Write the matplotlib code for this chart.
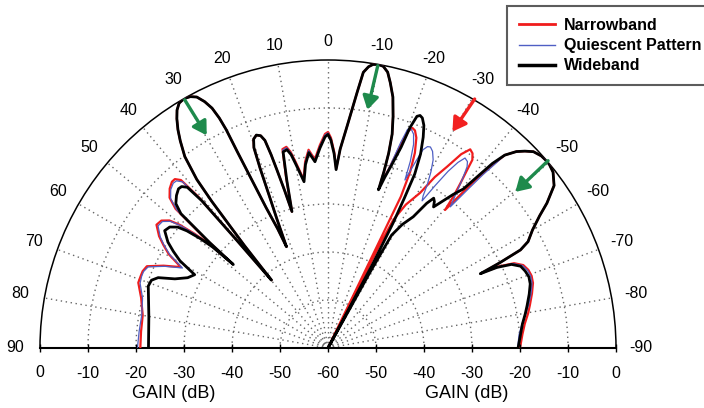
import numpy as np
import matplotlib
matplotlib.use('Agg')
import matplotlib.pyplot as plt
from matplotlib.lines import Line2D

plt.rcParams['font.family'] = ['Liberation Sans', 'DejaVu Sans']

# ---------------- data (angle in degrees, gain in dB) ----------------
series_names = ['Narrowband', 'Quiescent Pattern', 'Wideband']

# shared main lobe segment (30 deg lobe and 18 deg lobe)
main_theta = [39.2, 38.4, 37.9, 36.8, 35.5, 34.5, 33.4, 32.4, 31.3, 30.0, 28.7, 27.6, 26.6,
              25.8, 25.3, 25.0, 24.8, 24.5, 23.8, 22.9, 22.3, 21.6, 21.1, 20.7, 20.3, 19.6,
              18.6, 17.6, 16.9, 16.4, 16.0, 15.4, 14.8]
main_gain = [-32.4, -21.0, -15.5, -10.2, -7.0, -4.8, -2.8, -1.3, -0.3, 0.0, -0.3, -1.0, -2.6,
             -4.5, -7.0, -9.8, -15.0, -20.0, -28.0, -33.0, -37.2, -31.0, -26.0, -20.0, -15.5, -13.8,
             -13.2, -13.6, -14.8, -18.0, -21.4, -26.0, -30.6]

# central sidelobes (14.8 .. -2.6 deg)
mid_theta = [13.8, 12.9, 11.7, 10.8, 9.9, 8.2, 7.0, 5.6, 4.0, 2.3, 0.8, 0.0, -0.8, -1.8, -2.6]
wb_mid_gain = [-24.0, -18.1, -17.8, -19.0, -21.2, -25.0, -21.5, -19.1, -21.1, -18.3, -16.0, -15.5, -16.7, -19.5, -22.8]
nb_mid_gain = [-23.4, -17.5, -17.2, -18.4, -20.6, -24.5, -20.9, -18.5, -20.6, -17.7, -15.4, -15.0, -16.2, -19.1, -22.6]
qp_mid_gain = [-23.6, -17.7, -17.4, -18.6, -20.8, -24.7, -21.1, -18.7, -20.8, -17.9, -15.6, -15.2, -16.4, -19.3, -22.7]

# shared -10 deg lobe
ten_theta = [-3.5, -4.9, -6.5, -7.3, -8.2, -9.0, -10.0, -11.1, -12.2, -13.2, -14.5, -15.7, -16.7, -17.3, -17.6]
ten_gain = [-18.5, -13.7, -6.4, -2.1, -0.8, -0.2, 0.0, -0.2, -1.2, -3.2, -6.0, -9.9, -13.5, -17.5, -21.5]

# shared -50 deg lobe
fifty_theta = [-42.5, -43.8, -45.0, -46.3, -48.0, -50.0, -52.0, -54.3, -56.5, -58.0, -60.0, -62.0, -63.0, -63.6]
fifty_gain = [-5.5, -3.3, -2.0, -0.8, -0.2, 0.0, -0.5, -2.0, -5.3, -8.0, -10.8, -12.8, -15.0, -20.0]

# left shoulder and lobes (90 .. 39.8 deg)
left_theta = [90, 85, 80, 75, 71, 69, 67.5, 65.7, 63.4, 61.2, 59.5, 58.0, 56.5, 54.3, 52.6, 51.2,
              50.3, 49.4, 48.8, 48.6, 48.3, 47.6, 46.5, 44.8, 43.2, 42.2, 41.2, 40.6, 40.3, 39.8]
wb_left_gain = [-22.6, -22.5, -22.1, -21.3, -20.4, -20.6, -21.7, -25.0, -27.3, -28.3, -24.2, -22.0,
                -20.0, -18.1, -18.5, -19.8, -21.8, -25.0, -28.1, -33.7, -27.0, -18.5, -16.3, -15.2,
                -14.5, -14.6, -15.5, -19.6, -29.5, -41.6]
nb_left_gain = [-20.9, -20.9, -20.8, -19.7, -18.2, -18.2, -18.2, -18.6, -21.7, -25.0, -21.5, -19.6,
                -17.8, -16.0, -16.3, -17.6, -19.8, -23.5, -27.5, -32.5, -26.0, -17.0, -14.5, -13.2,
                -12.5, -12.5, -13.5, -18.5, -29.0, -41.6]
qp_left_gain = [-20.3, -20.5, -20.6, -20.0, -18.6, -18.4, -18.4, -18.9, -22.0, -25.4, -21.8, -19.8,
                -18.1, -16.4, -16.6, -17.9, -20.1, -23.8, -27.8, -33.0, -26.4, -17.4, -14.8, -13.5,
                -12.9, -13.0, -14.0, -18.8, -29.2, -41.6]

# region between -10 and -50 lobes
wb_right_theta = [-17.7, -18.4, -19.2, -20.0, -20.4, -21.0, -21.6, -22.3, -23.3, -24.3, -25.5, -26.5,
                  -27.0, -27.5, -28.0, -28.5, -29.0, -29.4, -31.0, -33.0, -34.3, -35.2, -36.0, -36.8,
                  -37.8, -39.2, -40.4, -41.2, -41.7]
wb_right_gain = [-25.4, -22.5, -19.5, -15.5, -11.0, -8.3, -7.9, -8.2, -9.5, -11.8, -15.2, -19.5,
                 -25.0, -30.6, -40.0, -60.0, -42.0, -33.0, -30.0, -27.4, -23.5, -21.8, -22.3, -23.3,
                 -21.5, -18.7, -16.5, -12.0, -8.5]
nb_right_theta = [-17.7, -18.8, -19.7, -20.3, -21.0, -21.8, -22.8, -24.0, -25.0, -25.7, -26.2, -26.6,
                  -27.0, -28.5, -30.7, -32.0, -33.3, -34.5, -35.6, -36.6, -37.5, -38.0, -38.8, -39.6,
                  -40.3, -40.8, -41.3, -41.9]
nb_right_gain = [-24.5, -20.5, -15.0, -11.8, -10.9, -11.2, -12.5, -15.5, -19.5, -25.0, -60.0, -36.0,
                 -30.0, -26.0, -22.4, -18.0, -14.8, -11.0, -9.1, -9.5, -10.6, -12.9, -16.0, -19.0,
                 -22.3, -18.0, -13.0, -9.0]
qp_right_theta = [-17.7, -18.8, -19.5, -20.0, -20.8, -21.8, -22.8, -23.8, -24.6, -25.2, -25.6, -26.3,
                  -27.0, -28.0, -29.2, -30.3, -31.3, -32.0, -32.6, -33.4, -34.2, -35.0, -35.8, -36.8,
                  -37.5, -38.5, -39.8, -40.9, -41.4, -41.8, -42.2]
qp_right_gain = [-24.8, -20.0, -14.5, -11.5, -11.2, -12.0, -14.0, -17.5, -21.5, -17.0, -14.2, -13.2,
                 -13.0, -13.6, -15.1, -17.5, -20.2, -22.6, -23.6, -19.5, -15.5, -12.8, -11.2, -11.5,
                 -12.4, -15.0, -18.5, -21.1, -16.0, -11.5, -8.5]

# right shoulder (-64 .. -90 deg)
shoulder_theta = [-64.0, -64.5, -65.5, -67.0, -68.7, -70.5, -72.4, -75.0, -78.0, -80.2, -83.0, -86.0, -90.0]
wb_shoulder_gain = [-24.7, -21.0, -18.0, -16.4, -15.9, -15.6, -15.8, -16.6, -17.6, -18.3, -19.2, -19.8, -20.4]
nb_shoulder_gain = [-24.0, -20.5, -17.4, -15.8, -15.2, -15.0, -15.2, -16.0, -17.0, -17.7, -18.7, -19.4, -20.0]
qp_shoulder_gain = [-24.3, -20.7, -17.6, -16.0, -15.4, -15.2, -15.4, -16.2, -17.3, -18.2, -19.3, -20.1, -20.5]

# axis ticks / labels
angle_ticks = list(range(-90, 91, 10))
angle_labels = [str(a) for a in angle_ticks]
gain_grid = [-50, -40, -30, -20, -10]
gain_tick_values = [0, -10, -20, -30, -40, -50, -60]
gain_tick_labels = ['0', '-10', '-20', '-30', '-40', '-50', '-60']

# arrows: (start theta, start gain) -> (end theta, end gain)
green_arrows = [((30.0, -0.3), (29.7, -9.0)),
                ((-10.0, -0.3), (-9.4, -9.7)),
                ((-49.6, 0.2), (-50.2, -9.2))]
red_arrows = [((-30.5, 0.2), (-29.9, -8.0))]

# ---------------- assemble series ----------------
wb_theta = left_theta + main_theta + mid_theta + ten_theta + wb_right_theta + fifty_theta + shoulder_theta
wb_gain = wb_left_gain + main_gain + wb_mid_gain + ten_gain + wb_right_gain + fifty_gain + wb_shoulder_gain
nb_theta = left_theta + main_theta + mid_theta + ten_theta + nb_right_theta + fifty_theta + shoulder_theta
nb_gain = nb_left_gain + main_gain + nb_mid_gain + ten_gain + nb_right_gain + fifty_gain + nb_shoulder_gain
qp_theta = left_theta + main_theta + mid_theta + ten_theta + qp_right_theta + fifty_theta + shoulder_theta
qp_gain = qp_left_gain + main_gain + qp_mid_gain + ten_gain + qp_right_gain + fifty_gain + qp_shoulder_gain

# ---------------- figure ----------------
W, H = 704, 408
fig = plt.figure(figsize=(W / 100, H / 100), dpi=100)
# square box: the half disc (576 x 288 px) sits centred inside it
ax = fig.add_axes([40 / W, (60 - 144) / H, 576 / W, 576 / H], projection='polar')
ax.set_theta_zero_location('N')
ax.set_theta_direction(1)
ax.set_thetamin(-90)
ax.set_thetamax(90)
ax.set_rlim(-60, 0)

ax.set_xticks(np.deg2rad(angle_ticks))
ax.set_xticklabels([])
ax.set_yticks(gain_grid)
ax.set_yticklabels([])
ax.grid(True, linestyle=(0, (1, 2.6)), color='#666666', linewidth=1.0)
ax.tick_params(axis='x', direction='inout', length=6, width=1.0, color='black')
ax.tick_params(axis='y', length=0)
ax.spines['polar'].set_linewidth(1.1)
ax.spines['start'].set_linewidth(1.5)
ax.spines['end'].set_linewidth(1.5)
ax.spines['inner'].set_visible(False)

red_c = '#f01c1c'
blue_c = '#4f5fc4'
black_c = '#000000'
ax.plot(np.deg2rad(nb_theta), nb_gain, color=red_c, lw=1.6, zorder=3, solid_joinstyle='round')
ax.plot(np.deg2rad(qp_theta), qp_gain, color=blue_c, lw=0.9, zorder=4, solid_joinstyle='round')
ax.plot(np.deg2rad(wb_theta), wb_gain, color=black_c, lw=2.0, zorder=5, solid_joinstyle='round')

# angle labels around the arc
for a, lbl in zip(angle_ticks, angle_labels):
    t = np.deg2rad(a)
    off = (18 + 7 * abs(np.sin(t))) * 0.72
    ax.annotate(lbl, xy=(t, 0), xytext=(-np.sin(t) * off, np.cos(t) * off),
                textcoords='offset points', ha='center', va='center', fontsize=11.5,
                annotation_clip=False)

# baseline gain ticks and labels
for side in (90, -90):
    vals = gain_tick_values if side == 90 else gain_tick_values[:-1]
    labs = gain_tick_labels if side == 90 else gain_tick_labels[:-1]
    ax.plot([np.deg2rad(side)] * len(vals), vals, ls='none', marker='|', ms=6, mew=1.0,
            color='black', clip_on=False, zorder=6)
    for v, lbl in zip(vals, labs):
        ax.annotate(lbl, xy=(np.deg2rad(side), v), xytext=(0, -18), textcoords='offset points',
                    ha='center', va='center', fontsize=11.5, annotation_clip=False)

fig.text(174 / W, 1 - 393 / H, 'GAIN (dB)', ha='center', va='center', fontsize=13)
fig.text(467 / W, 1 - 393 / H, 'GAIN (dB)', ha='center', va='center', fontsize=13)

# arrows
for (s, e) in green_arrows:
    ax.annotate('', xy=(np.deg2rad(e[0]), e[1]), xytext=(np.deg2rad(s[0]), s[1]),
                arrowprops=dict(arrowstyle='-|>,head_length=0.5,head_width=0.3', color='#1e8a4c',
                                lw=2.4, mutation_scale=16, shrinkA=0, shrinkB=0), zorder=7)
for (s, e) in red_arrows:
    ax.annotate('', xy=(np.deg2rad(e[0]), e[1]), xytext=(np.deg2rad(s[0]), s[1]),
                arrowprops=dict(arrowstyle='-|>,head_length=0.5,head_width=0.3', color='#f22020',
                                lw=2.4, mutation_scale=16, shrinkA=0, shrinkB=0), zorder=7)

# legend
handles = [Line2D([], [], color=red_c, lw=2.0),
           Line2D([], [], color=blue_c, lw=1.0),
           Line2D([], [], color=black_c, lw=2.5)]
leg = fig.legend(handles, series_names, loc='upper left', bbox_to_anchor=(507 / W, 1 - 6 / H),
                 frameon=True, fancybox=False, edgecolor='#333333',
                 prop=dict(weight='bold', size=11.5), handlelength=2.25, handletextpad=0.55,
                 borderpad=0.75, labelspacing=0.32, borderaxespad=0)
leg.get_frame().set_linewidth(1.5)

fig.savefig('out.png', dpi=100)
